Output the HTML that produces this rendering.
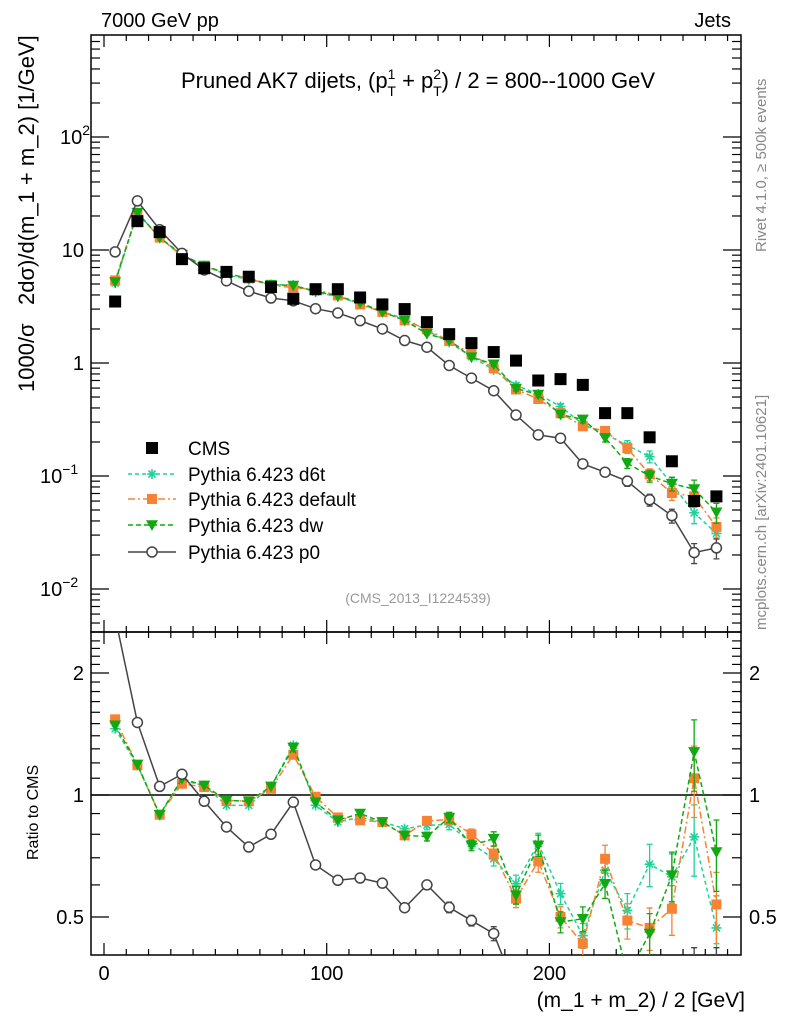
<!DOCTYPE html>
<html><head><meta charset="utf-8">
<style>
html,body{margin:0;padding:0;background:#fff;width:786px;height:1024px;overflow:hidden;}
svg{display:block;font-family:"Liberation Sans",sans-serif;}
</style></head>
<body>
<svg id="chart" width="786" height="1024" viewBox="0 0 786 1024" xmlns="http://www.w3.org/2000/svg">
<g id="frame"></g>
<g id="marks"></g>
<text x="101" y="27" font-size="20">7000 GeV pp</text>
<text x="731" y="27" font-size="20" text-anchor="end">Jets</text>
<text x="418" y="88" font-size="22" text-anchor="middle">Pruned AK7 dijets, (p<tspan font-size="14" dy="-9">1</tspan><tspan font-size="14" dx="-8" dy="17">T</tspan><tspan dy="-8"> + p</tspan><tspan font-size="14" dy="-9">2</tspan><tspan font-size="14" dx="-8" dy="17">T</tspan><tspan dy="-8">) / 2 = 800--1000 GeV</tspan></text>
<text transform="translate(34,392) rotate(-90)" font-size="22" xml:space="preserve">1000/σ   2dσ)/d(m_1 + m_2) [1/GeV]</text>
<text transform="translate(38,860) rotate(-90)" font-size="16">Ratio to CMS</text>
<text x="745" y="1007" font-size="21" text-anchor="end">(m_1 + m_2) / 2 [GeV]</text>
<text transform="translate(766,252) rotate(-90)" font-size="15" fill="#888">Rivet 4.1.0, ≥ 500k events</text>
<text transform="translate(766,630) rotate(-90)" font-size="15" fill="#888">mcplots.cern.ch [arXiv:2401.10621]</text>
<text x="418" y="603" font-size="14" fill="#999" text-anchor="middle">(CMS_2013_I1224539)</text>
<g id="legend"></g>
</svg>
<script>
const binCenters=[5,15,25,35,45,55,65,75,85,95,105,115,125,135,145,155,165,175,185,195,205,215,225,235,245,255,265,275];
const cmsValues=[3.5,18,14.4,8.3,6.9,6.4,5.8,4.7,3.7,4.5,4.5,3.8,3.3,3.0,2.3,1.8,1.5,1.25,1.05,0.7,0.72,0.64,0.36,0.36,0.22,0.135,0.06,0.066];
const ratioD6t=[1.457,1.184,0.894,1.087,1.056,0.943,0.943,1.05,1.326,0.943,0.858,0.88,0.858,0.826,0.842,0.846,0.759,0.696,0.604,0.759,0.571,0.45,0.652,0.519,0.675,0.628,0.788,0.47];
const ratioDefault=[1.537,1.184,0.894,1.066,1.046,0.97,0.965,1.036,1.257,0.99,0.88,0.866,0.858,0.795,0.863,0.87,0.80,0.717,0.555,0.686,0.50,0.43,0.696,0.49,0.47,0.524,1.10,0.537];
const ratioDw=[1.486,1.19,0.894,1.097,1.056,0.97,0.965,1.05,1.31,0.96,0.866,0.90,0.858,0.795,0.79,0.88,0.751,0.78,0.566,0.751,0.486,0.495,0.604,0.36,0.455,0.634,1.277,0.723];
const ratioP0=[2.75,1.51,1.05,1.125,0.965,0.834,0.744,0.80,0.96,0.672,0.616,0.624,0.606,0.527,0.60,0.528,0.49,0.455,0.33,0.33,0.30,0.20,0.30,0.25,0.28,0.33,0.35,0.35];
const relErr=[0.01,0.01,0.01,0.01,0.01,0.01,0.01,0.01,0.01,0.01,0.01,0.015,0.015,0.02,0.025,0.03,0.03,0.04,0.05,0.06,0.06,0.07,0.08,0.1,0.12,0.14,0.2,0.2];
const xTicksMajor=[0,100,200];
const mainTicks=[{v:100,l:'10',e:'2'},{v:10,l:'10',e:''},{v:1,l:'1',e:''},{v:0.1,l:'10',e:'−1'},{v:0.01,l:'10',e:'−2'}];
const ratioTicks=[2,1,0.5];

const NS='http://www.w3.org/2000/svg';
const L=91,R=741,T=35,MB=632,RB=955;
const xs=v=>104+2.227*v;
const ym=v=>363-113*Math.log10(v);
const yr=v=>795-122*Math.log2(v);
function mk(tag,attrs,parent){const e=document.createElementNS(NS,tag);for(const k in attrs)e.setAttribute(k,attrs[k]);parent.appendChild(e);return e;}
const fr=document.getElementById('frame'),mg=document.getElementById('marks');

let r1=mk('rect',{x:L,y:T,width:R-L,height:MB-T,fill:'none',stroke:'#000','stroke-width':1.5},fr);

let r2=mk('rect',{x:L,y:MB,width:R-L,height:RB-MB,fill:'none',stroke:'#000','stroke-width':1.5},fr);

for(let v=0;v<=280;v+=10){const x=xs(v),len=(v%100===0)?12:6;
 for(const [y0,d] of [[T,1],[MB,-1],[MB,1],[RB,-1]]){let t=mk('line',{x1:x,x2:x,y1:y0,y2:y0+d*len,stroke:'#000','stroke-width':1.2},fr);}}
xTicksMajor.forEach(v=>{let t=mk('text',{x:xs(v),y:980,'font-size':20,'text-anchor':'middle'},fr);t.textContent=v;});
for(let d=-3;d<=2;d++)for(let m=1;m<=9;m++){const v=m*Math.pow(10,d),y=ym(v);if(y<T||y>MB)continue;const len=m===1?18:9;
 for(const [x0,s] of [[L,1],[R,-1]]){let t=mk('line',{x1:x0,x2:x0+s*len,y1:y,y2:y,stroke:'#000','stroke-width':1.2},fr);}}
mainTicks.forEach(o=>{let t=mk('text',{x:o.e?60:84,y:ym(o.v)+7,'font-size':20,'text-anchor':o.e?'start':'end'},fr);
 if(o.e){t.textContent=o.l;let s=mk('tspan',{'font-size':14,dy:-9},t);s.textContent=o.e;t.setAttribute('x',o.e.length>1?40:60);} else t.textContent=o.l;});
for(let v=0.4;v<=2.5;v+=0.1){const y=yr(v);if(y<MB||y>RB)continue;const maj=Math.abs(v-0.5)<1e-6||Math.abs(v-1)<1e-6||Math.abs(v-2)<1e-6;const len=maj?18:9;
 for(const [x0,s] of [[L,1],[R,-1]]){let t=mk('line',{x1:x0,x2:x0+s*len,y1:y,y2:y,stroke:'#000','stroke-width':1.2},fr);}}
ratioTicks.forEach(v=>{for(const [x,a] of [[84,'end'],[749,'start']]){let t=mk('text',{x:x,y:yr(v)+7,'font-size':20,'text-anchor':a},fr);t.textContent=v;}});
let ref=mk('line',{x1:L,x2:R,y1:yr(1),y2:yr(1),stroke:'#000','stroke-width':1.5},fr);


const defs=mk('defs',{},document.getElementById('chart'));
const c1=mk('clipPath',{id:'cm'},defs);mk('rect',{x:L,y:T,width:R-L,height:MB-T},c1);
const c2=mk('clipPath',{id:'cr'},defs);mk('rect',{x:L,y:MB,width:R-L,height:RB-MB},c2);
const gm=mk('g',{'clip-path':'url(#cm)'},mg),gr=mk('g',{'clip-path':'url(#cr)'},mg);

function marker(type,x,y,col,g,s){
 if(type==='sq'){return mk('rect',{x:x-s,y:y-s,width:2*s,height:2*s,fill:col},g);}
 if(type==='tri'){return mk('polygon',{points:`${x-s},${y-s*0.8} ${x+s},${y-s*0.8} ${x},${y+s}`,fill:col},g);}
 if(type==='circ'){return mk('circle',{cx:x,cy:y,r:s,fill:'#fff',stroke:col,'stroke-width':1.5},g);}
 if(type==='star'){return mk('path',{d:`M${x-s},${y}H${x+s}M${x},${y-s}V${y+s}M${x-s*0.7},${y-s*0.7}L${x+s*0.7},${y+s*0.7}M${x-s*0.7},${y+s*0.7}L${x+s*0.7},${y-s*0.7}`,stroke:col,'stroke-width':1.6},g);}
}
const series=[
 {name:'d6t',ratio:ratioD6t,col:'#1fd39a',dash:'4,3',m:'star',s:5},
 {name:'default',ratio:ratioDefault,col:'#f78234',dash:'7,3,2,3',m:'sq',s:5},
 {name:'dw',ratio:ratioDw,col:'#12a812',dash:'5,3',m:'tri',s:6},
 {name:'p0',ratio:ratioP0,col:'#444',dash:'',m:'circ',s:5}
];
series.forEach(sr=>{
 const mainVals=sr.ratio.map((r,i)=>r*cmsValues[i]);
 for(const [g,yf,vals] of [[gm,ym,mainVals],[gr,yr,sr.ratio]]){
  const pts=binCenters.map((b,i)=>xs(b)+','+yf(vals[i])).join(' ');
  let pl=mk('polyline',{points:pts,fill:'none',stroke:sr.col,'stroke-width':1.5,'stroke-dasharray':sr.dash},g);
  
  binCenters.forEach((b,i)=>{const x=xs(b),v=vals[i],e=relErr[i]*v;
   if(relErr[i]>0.02){let eb=mk('path',{d:`M${x},${yf(v+e)}V${yf(v-e)}M${x-3},${yf(v+e)}H${x+3}M${x-3},${yf(v-e)}H${x+3}`,stroke:sr.col,'stroke-width':1.3},g);}
   let m=marker(sr.m,x,yf(v),sr.col,g,sr.s);});
 }
});
binCenters.forEach((b,i)=>{let m=marker('sq',xs(b),ym(cmsValues[i]),'#000',gm,6);
 });

const lg=document.getElementById('legend');
const legItems=[{t:'CMS',col:'#000',m:'sq',dash:null,s:6},{t:'Pythia 6.423 d6t',col:'#1fd39a',m:'star',dash:'4,3',s:5},{t:'Pythia 6.423 default',col:'#f78234',m:'sq',dash:'7,3,2,3',s:5},{t:'Pythia 6.423 dw',col:'#12a812',m:'tri',dash:'5,3',s:6},{t:'Pythia 6.423 p0',col:'#444',m:'circ',dash:'',s:5}];
const legY=[448,474,499,525,552];
legItems.forEach((it,i)=>{const y=legY[i];const g=mk('g',{},lg);
 
 if(it.dash!==null)mk('line',{x1:128,x2:176,y1:y,y2:y,stroke:it.col,'stroke-width':1.5,'stroke-dasharray':it.dash},g);
 marker(it.m,152,y,it.col,g,it.s);
 const t=mk('text',{x:188,y:y+7,'font-size':19},g);t.textContent=it.t;});
</script>
</body></html>
